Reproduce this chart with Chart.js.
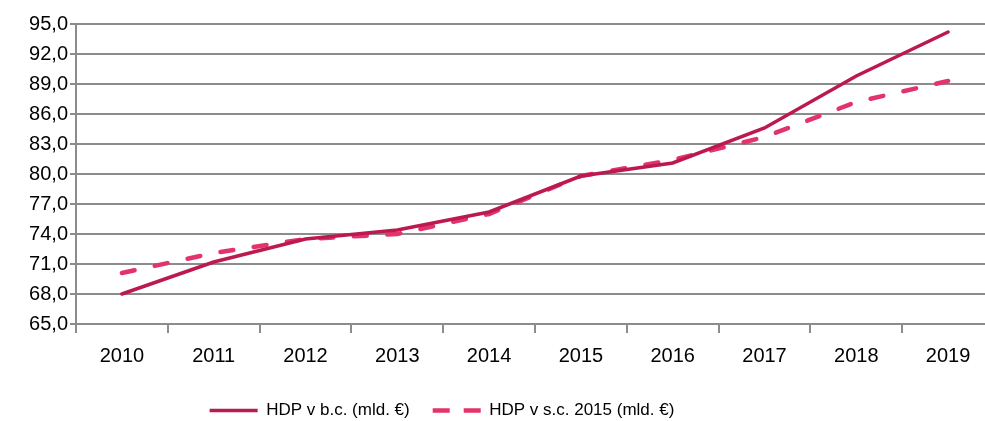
<!DOCTYPE html>
<html>
<head>
<meta charset="utf-8">
<script src="https://cdn.jsdelivr.net/npm/chart.js@4"></script>
<style>
  html, body { margin: 0; padding: 0; background: #fff; overflow: hidden; }
  #wrap { width: 995px; height: 421px; }
</style>
</head>
<body>
<div id="wrap"><canvas id="myChart"></canvas></div>
<script>
// categories and series
const years = ['2010', '2011', '2012', '2013', '2014', '2015', '2016', '2017', '2018', '2019']
const nominalGdp = [68.0, 71.2, 73.5, 74.4, 76.2, 79.8, 81.1, 84.6, 89.8, 94.2]
const realGdp2015 = [70.1, 72.1, 73.5, 74.0, 76.0, 79.8, 81.4, 83.7, 87.2, 89.3]
const yMin = 65
const yMax = 95
const yStep = 3

const FONT = "'Liberation Sans', Arial, sans-serif"
const GRID = '#8c8c8c'

// legend in the original sits left of centre
const shiftLegend = {
  id: 'shiftLegend',
  afterLayout(chart) {
    chart.legend.right -= 110
  }
}

function legendLabels(chart) {
  const items = Chart.defaults.plugins.legend.labels.generateLabels(chart)
  // the 'line' point style closes its path, so the dash has to be symmetric
  // over the 48px sample to show two dashes: "— —"
  items[1].lineDash = [34, 14]
  items[1].lineDashOffset = 17
  return items
}

function updateGraph() {
  var ctx = document.getElementById('myChart').getContext('2d')
  var chart = new Chart(ctx, {
    type: 'line',
    data: {
      labels: years,
      datasets: [{
        label: 'HDP v b.c. (mld. €)',
        data: nominalGdp,
        borderColor: '#bc1950',
        backgroundColor: '#bc1950',
        borderWidth: 3.5,
        pointRadius: 0,
        tension: 0,
        borderCapStyle: 'round'
      }, {
        label: 'HDP v s.c. 2015 (mld. €)',
        data: realGdp2015,
        borderColor: '#e2336a',
        backgroundColor: '#e2336a',
        borderWidth: 4.5,
        // period picked so the last dash lands on 2019
        borderDash: [13, 20.6],
        borderCapStyle: 'round',
        pointRadius: 0,
        tension: 0
      }]
    },
    plugins: [shiftLegend],
    options: {
      responsive: true,
      maintainAspectRatio: false,
      animation: false,
      layout: { padding: { top: 24, right: 1, left: 0, bottom: -8 } },
      plugins: {
        tooltip: { enabled: false },
        legend: {
          position: 'bottom',
          labels: {
            usePointStyle: true,
            pointStyle: 'line',
            pointStyleWidth: 48,
            boxWidth: 48,
            boxHeight: 10,
            padding: 23,
            color: '#000',
            font: { family: FONT, size: 17 },
            generateLabels: legendLabels
          }
        }
      },
      scales: {
        x: {
          offset: true,
          afterFit: function (scale) { scale.height = 55 },
          grid: { display: true, drawOnChartArea: false, offset: true, color: GRID, lineWidth: 2, tickLength: 9 },
          border: { color: GRID, width: 2 },
          ticks: { color: '#000', padding: 11, font: { family: FONT, size: 20 } }
        },
        y: {
          min: yMin,
          max: yMax,
          afterFit: function (scale) { scale.width = 76 },
          grid: { color: GRID, lineWidth: 2, tickLength: 6 },
          border: { color: GRID, width: 2 },
          ticks: {
            stepSize: yStep,
            color: '#000',
            padding: 2,
            font: { family: FONT, size: 20 },
            callback: function (v) { return v.toFixed(1).replace('.', ',') }
          }
        }
      }
    }
  })
}

updateGraph()
</script>
</body>
</html>
